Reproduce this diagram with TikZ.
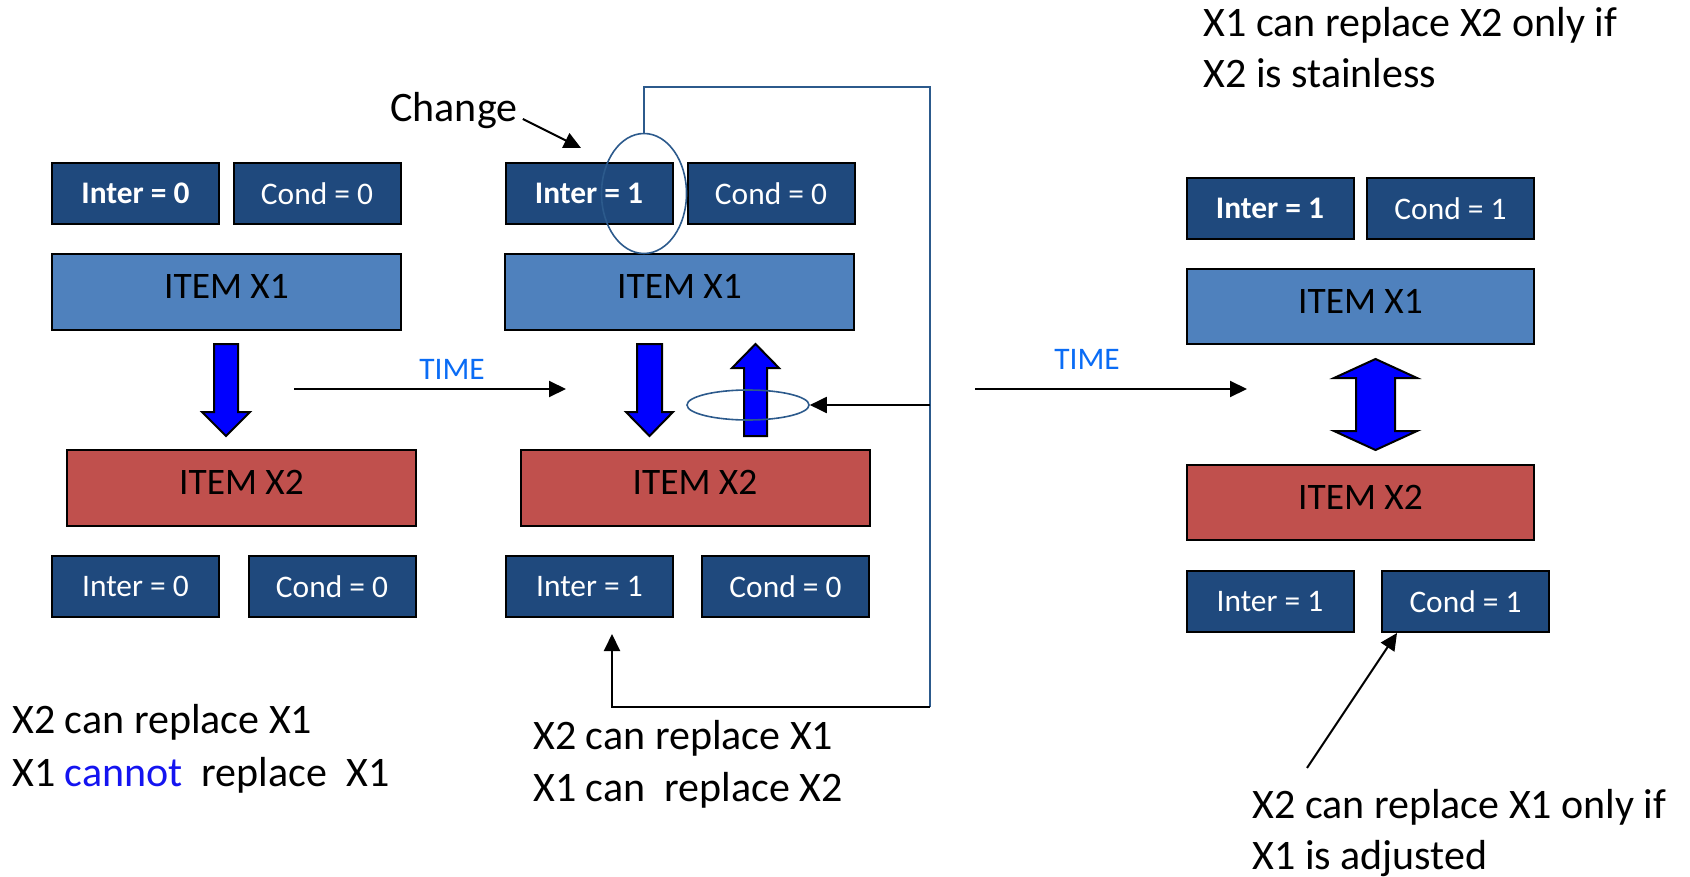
\documentclass[tikz,border=0pt]{standalone}
\usepackage{fontspec}
\setmainfont{Carlito}
\usetikzlibrary{shapes.geometric,arrows.meta}
\definecolor{dboxc}{HTML}{1F497D}
\definecolor{lbluec}{HTML}{4F81BD}
\definecolor{lredc}{HTML}{C0504D}
\definecolor{timeblue}{HTML}{0A6CF5}
\definecolor{loopblue}{HTML}{2C5A8C}
\definecolor{cannotblue}{HTML}{1414F0}
\tikzset{
  statebox/.style={draw=black, line width=1pt, fill=dboxc, text=white,
    minimum width=83.5pt, minimum height=30.5pt, inner sep=0pt,
    font=\fontsize{15.7pt}{18pt}\selectfont},
  itembox/.style={draw=black, line width=1pt, minimum width=174.5pt,
    minimum height=38pt, inner sep=0pt, text depth=5.5pt,
    font=\fontsize{18.7pt}{21pt}\selectfont},
  note/.style={anchor=base west, inner sep=0pt, font=\fontsize{21pt}{25pt}\selectfont},
  timelbl/.style={text=timeblue, anchor=base, inner sep=0pt,
    font=\fontsize{15.7pt}{18pt}\selectfont},
  blockarrow/.style={fill=blue, draw=black, line width=1pt, line join=miter},
  loopline/.style={draw=loopblue, line width=0.8pt},
  conn/.style={draw=black, line width=1pt, -{Triangle[length=8.5pt,width=8pt]}},
  ring/.style={draw=loopblue, line width=0.8pt, ellipse, inner sep=0pt}
}
\begin{document}
\begin{tikzpicture}[x=0.5pt, y=-0.5pt]
\useasboundingbox (0,0) rectangle (1690,877);

% ---------- left panel ----------
\node[statebox] (li0t) at (135.5,193.5) {\bfseries Inter = 0};
\node[statebox] (lc0t) at (317,193.5) {Cond = 0};
\node[itembox, fill=lbluec] (lx1) at (226.5,291.5) {ITEM X1};
\node[itembox, fill=lredc] (lx2) at (241.5,487.5) {ITEM X2};
\node[statebox] (li0b) at (135.5,586.5) {Inter = 0};
\node[statebox] (lc0b) at (332,586.5) {Cond = 0};
\draw[blockarrow] (214,344) -- (238,344) -- (238,412) -- (250,412) -- (226,436)
  -- (202,412) -- (214,412) -- cycle;
\node[note] (n1a) at (12,733) {X2 can replace X1};
\node[note] (n1b) at (12,786) {X1 {\color{cannotblue}cannot}\ \ replace\ \ X1};

% ---------- time arrow 1 ----------
\coordinate (t1s) at (294,389);
\coordinate (t1e) at (566,389);
\draw[conn] (t1s) -- (t1e);
\node[timelbl] (time1) at (452,379) {TIME};

% ---------- middle panel ----------
\node[statebox] (mi1t) at (589,193.5) {\bfseries Inter = 1};
\node[statebox] (mc0t) at (771,193.5) {Cond = 0};
\node[itembox, fill=lbluec] (mx1) at (679.5,292) {ITEM X1};
\node[itembox, fill=lredc] (mx2) at (695,487.5) {ITEM X2};
\node[statebox] (mi1b) at (589.5,586.5) {Inter = 1};
\node[statebox] (mc0b) at (785.5,586.5) {Cond = 0};
\draw[blockarrow] (637,344) -- (662,344) -- (662,412) -- (673,412) -- (649.5,436)
  -- (626,412) -- (637,412) -- cycle;
\draw[blockarrow] (744,436) -- (767,436) -- (767,368) -- (779,368) -- (755.5,344)
  -- (732,368) -- (744,368) -- cycle;
\node[ring, minimum width=42.5pt, minimum height=60pt] (chg) at (644,193.5) {};
\node[ring, minimum width=61pt, minimum height=15pt] (rot) at (748,405) {};

\node[note] (chgtxt) at (390,122) {Change};
\coordinate (chgtip) at (581,148);
\draw[conn] ([xshift=2.5pt,yshift=1.5pt]chgtxt.base east) -- (chgtip);

\coordinate (ctop) at (930,87);
\coordinate (cbot) at (930,707);
\coordinate (cleft) at (612,707);
\coordinate (ctip) at (612,634);
\draw[loopline] (chg.north) |- (ctop) -- (cbot);
\draw[conn] (cbot |- rot.east) -- (rot.east);
\draw[conn] (cbot) -- (cleft) -- (ctip);

\node[note] (n2a) at (533,749) {X2 can replace X1};
\node[note] (n2b) at (533,801) {X1 can\ \ replace X2};

% ---------- time arrow 2 ----------
\coordinate (t2s) at (975,389);
\coordinate (t2e) at (1247,389);
\draw[conn] (t2s) -- (t2e);
\node[timelbl] (time2) at (1087,369) {TIME};

% ---------- right panel ----------
\node[note] (n3a) at (1203,37) {X1 can replace X2 only if};
\node[note] (n3b) at (1203,88) {X2 is stainless};
\node[statebox] (ri1t) at (1270,208.5) {\bfseries Inter = 1};
\node[statebox] (rc1t) at (1450.5,208.5) {Cond = 1};
\node[itembox, fill=lbluec, minimum width=173.5pt, minimum height=37.5pt] (rx1) at (1360.5,306.5) {ITEM X1};
\node[itembox, fill=lredc, minimum width=173.5pt, minimum height=37.5pt] (rx2) at (1360.5,502.5) {ITEM X2};
\node[statebox] (ri1b) at (1270,601.5) {Inter = 1};
\node[statebox] (rc1b) at (1465.5,601.5) {Cond = 1};
\draw[blockarrow] (1375.5,359) -- (1417,378) -- (1395,378) -- (1395,431) -- (1417,431)
  -- (1375.5,450) -- (1334,431) -- (1356,431) -- (1356,378) -- (1334,378) -- cycle;
\node[note] (n4a) at (1252,818) {X2 can replace X1 only if};
\node[note] (n4b) at (1252,869) {X1 is adjusted};
\coordinate (adjs) at (1307,768);
\draw[conn] (adjs) -- ([xshift=8pt]rc1b.south west);
\end{tikzpicture}
\end{document}
